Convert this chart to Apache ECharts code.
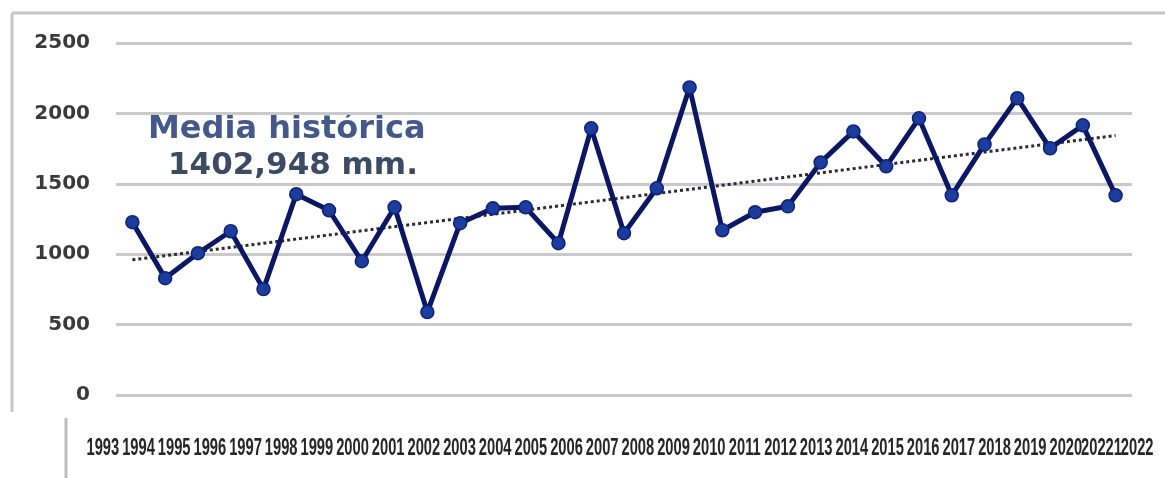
<!DOCTYPE html>
<html>
<head>
<meta charset="utf-8">
<title>Precipitación anual</title>
<script src="https://cdn.jsdelivr.net/npm/echarts@6/dist/echarts.min.js"></script>
<style>
  html, body { margin: 0; padding: 0; background: #ffffff; }
  #chart { width: 1165px; height: 478px; }
</style>
</head>
<body>
<div id="chart"></div>
<script>
// Annual rainfall (mm), one value per plotted year
const rainfall = [1227, 830, 1007, 1163, 752, 1426, 1312, 950, 1333, 589,
                  1220, 1326, 1333, 1078, 1894, 1149, 1468, 2184, 1170, 1298,
                  1340, 1652, 1872, 1624, 1965, 1418, 1780, 2108, 1752, 1915, 1418];

// Linear trend: value at first and last point
const trendStart = 960;
const trendEnd = 1843;

// Year labels printed beneath the plot
const yearLabels = ['1993', '1994', '1995', '1996', '1997', '1998', '1999', '2000',
                    '2001', '2002', '2003', '2004', '2005', '2006', '2007', '2008',
                    '2009', '2010', '2011', '2012', '2013', '2014', '2015', '2016',
                    '2017', '2018', '2019', '2020', '20221', '2022'];

// Value axis ticks
const yTicks = { min: 0, max: 2500, interval: 500 };

// Annotation text
const meanTitle = 'Media histórica';
const meanValue = '1402,948 mm.';

const pointIndex = rainfall.map((_, i) => String(i));
const lastIndex = String(rainfall.length - 1);

const chart = echarts.init(document.getElementById('chart'), null, { renderer: 'canvas' });

// Frame lines and the two-line annotation
const baseGraphics = [
  { type: 'line', shape: { x1: 12, y1: 13, x2: 1165, y2: 13 }, style: { stroke: '#c6c6c6', lineWidth: 3 }, silent: true },
  { type: 'line', shape: { x1: 12, y1: 13, x2: 12, y2: 412 }, style: { stroke: '#c6c6c6', lineWidth: 3 }, silent: true },
  { type: 'line', shape: { x1: 66, y1: 418, x2: 66, y2: 478 }, style: { stroke: '#bdbdbd', lineWidth: 3 }, silent: true },
  {
    type: 'text', left: 148, top: 114, silent: true,
    style: { text: meanTitle, fill: '#44598a', font: "bold 32px 'DejaVu Sans', sans-serif" }
  },
  {
    type: 'text', left: 168, top: 150, silent: true,
    style: { text: meanValue, fill: '#3d4a64', font: "bold 31px 'DejaVu Sans', sans-serif" }
  }
];

chart.setOption({
  animation: false,
  backgroundColor: '#ffffff',
  grid: [
    { left: 116, right: 33, top: 43, bottom: 83, containLabel: false },
    { left: 85, right: 10, top: 430, height: 1, containLabel: false }
  ],
  xAxis: [
    {
      gridIndex: 0,
      type: 'category',
      data: pointIndex,
      boundaryGap: true,
      axisLine: { show: false },
      axisTick: { show: false },
      axisLabel: { show: false },
      splitLine: { show: false }
    },
    {
      // positions for the year strip; the text itself is drawn condensed below
      gridIndex: 1,
      type: 'category',
      data: yearLabels,
      boundaryGap: true,
      axisLine: { show: false },
      axisTick: { show: false },
      splitLine: { show: false },
      axisLabel: { show: false }
    }
  ],
  yAxis: [
    {
      gridIndex: 0,
      type: 'value',
      min: yTicks.min,
      max: yTicks.max,
      interval: yTicks.interval,
      axisLine: { show: false },
      axisTick: { show: false },
      axisLabel: {
        margin: 26,
        color: '#3a3a3a',
        fontFamily: "'DejaVu Sans', sans-serif",
        fontWeight: 'bold',
        fontSize: 20,
        formatter: v => String(v)
      },
      splitLine: { show: true, lineStyle: { color: '#c9c9c9', width: 3 } }
    },
    { gridIndex: 1, type: 'value', show: false }
  ],
  graphic: baseGraphics,
  series: [
    {
      name: 'Tendencia',
      type: 'line',
      xAxisIndex: 0,
      yAxisIndex: 0,
      data: [['0', trendStart], [lastIndex, trendEnd]],
      symbol: 'none',
      z: 2,
      lineStyle: { color: '#2b2b33', width: 3, type: [3, 3] }
    },
    {
      name: 'Precipitación',
      type: 'line',
      xAxisIndex: 0,
      yAxisIndex: 0,
      data: rainfall,
      symbol: 'circle',
      symbolSize: 13,
      z: 3,
      lineStyle: { color: '#0c1763', width: 5 },
      itemStyle: { color: '#1d3d9e', borderColor: '#0f2275', borderWidth: 1.5 }
    }
  ]
});

// Condensed year labels, centred on the year-strip category axis
const yearTexts = yearLabels.map(label => ({
  type: 'text',
  silent: true,
  x: chart.convertToPixel({ xAxisIndex: 1 }, label),
  y: 449,
  scaleX: 0.64,
  style: {
    text: label,
    x: 0,
    y: 0,
    align: 'center',
    verticalAlign: 'middle',
    fill: '#262626',
    font: "bold 23px 'Liberation Sans', Arial, sans-serif"
  }
}));

chart.setOption({ graphic: baseGraphics.concat(yearTexts) });
</script>
</body>
</html>
